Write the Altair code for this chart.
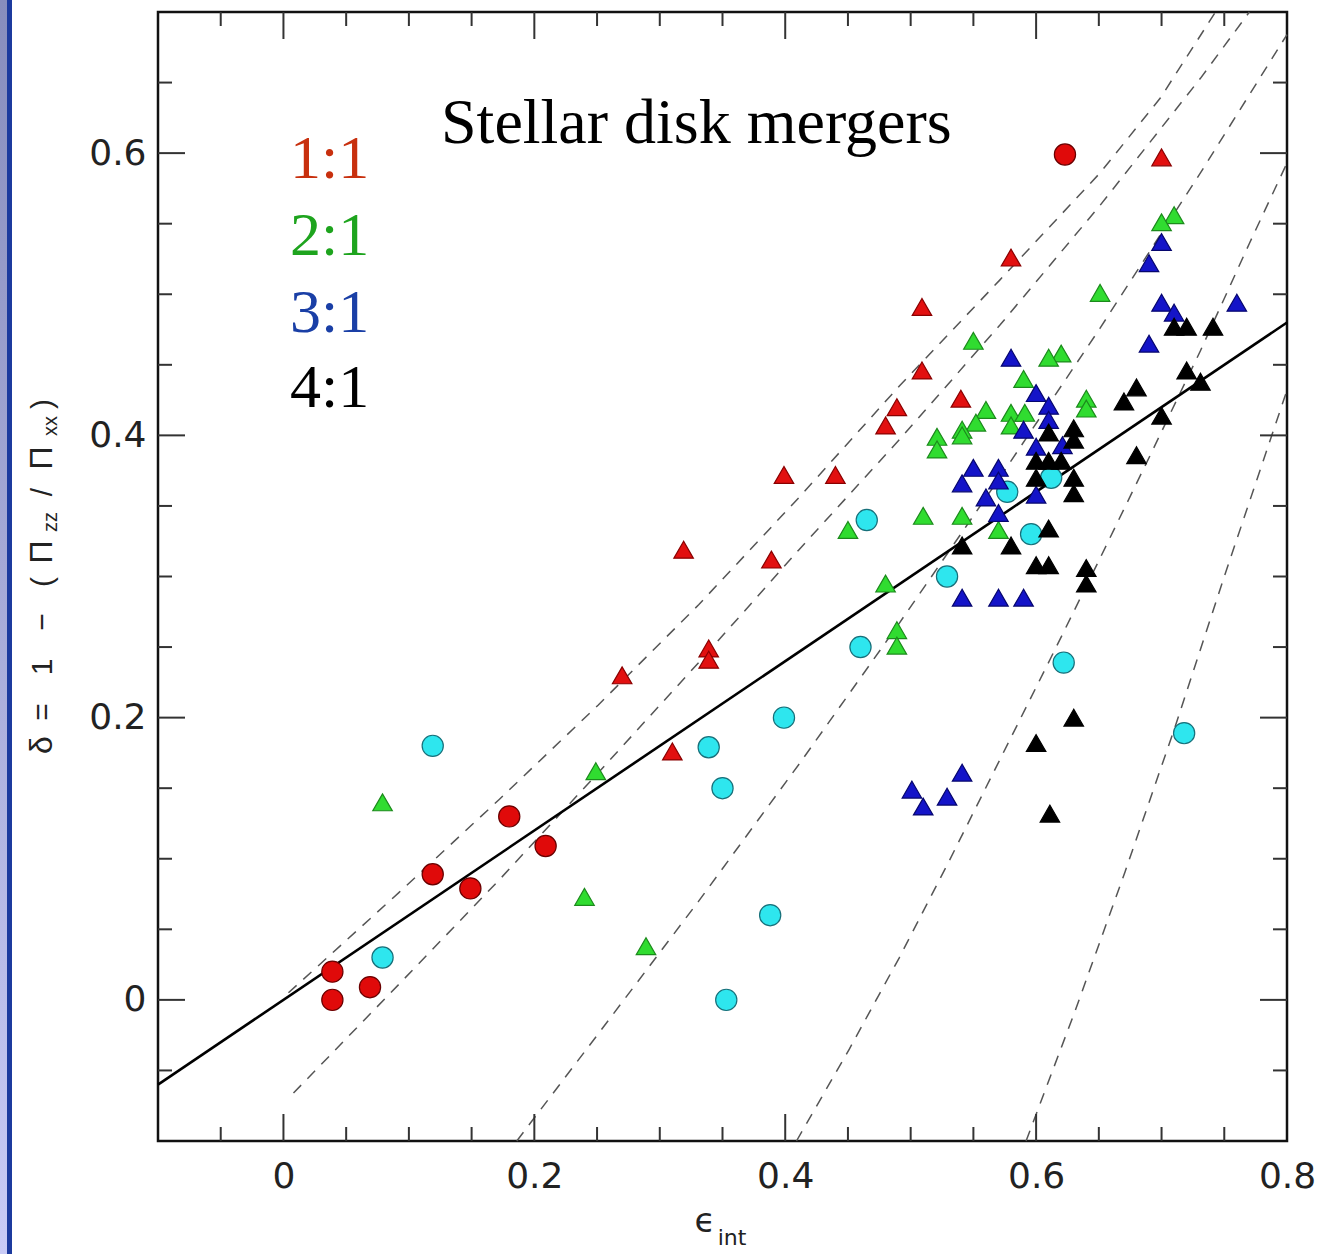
import altair as alt
import pandas as pd

# ---------------- data ----------------
# 1:1 mergers (red): circles and triangles
m11_circ_x = [0.039, 0.039, 0.069, 0.119, 0.149, 0.180, 0.209, 0.623]
m11_circ_y = [0.020, 0.000, 0.009, 0.089, 0.079, 0.130, 0.109, 0.599]
m11_tri_x = [0.700, 0.580, 0.509, 0.509, 0.489, 0.480, 0.540, 0.399, 0.440, 0.319, 0.389, 0.339, 0.339, 0.270, 0.310]
m11_tri_y = [0.597, 0.526, 0.491, 0.446, 0.420, 0.407, 0.426, 0.372, 0.372, 0.319, 0.312, 0.249, 0.241, 0.230, 0.176]
# 2:1 mergers (green)
m21_x = [0.710, 0.700, 0.651, 0.550, 0.620, 0.610, 0.590, 0.640, 0.640, 0.560,
         0.580, 0.591, 0.552, 0.580, 0.541, 0.541, 0.521, 0.521, 0.510, 0.541,
         0.570, 0.450, 0.480, 0.489, 0.489, 0.249, 0.079, 0.240, 0.289]
m21_y = [0.556, 0.551, 0.501, 0.467, 0.458, 0.455, 0.440, 0.426, 0.419, 0.418,
         0.416, 0.416, 0.409, 0.407, 0.404, 0.400, 0.399, 0.390, 0.343, 0.343,
         0.333, 0.333, 0.295, 0.262, 0.251, 0.162, 0.140, 0.073, 0.038]
# 3:1 mergers (blue)
m31_x = [0.760, 0.700, 0.690, 0.700, 0.710, 0.690, 0.580, 0.600, 0.610, 0.610,
         0.590, 0.621, 0.600, 0.550, 0.570, 0.541, 0.570, 0.560, 0.570, 0.600,
         0.541, 0.570, 0.590, 0.501, 0.510, 0.529, 0.541]
m31_y = [0.494, 0.537, 0.522, 0.494, 0.487, 0.465, 0.455, 0.430, 0.421, 0.411,
         0.404, 0.393, 0.392, 0.377, 0.377, 0.366, 0.368, 0.356, 0.345, 0.358,
         0.285, 0.285, 0.285, 0.149, 0.137, 0.144, 0.161]
# 4:1 mergers (black)
m41_x = [0.710, 0.720, 0.741, 0.720, 0.731, 0.680, 0.670, 0.700, 0.680, 0.630,
         0.630, 0.610, 0.600, 0.610, 0.620, 0.600, 0.630, 0.630, 0.610, 0.580,
         0.541, 0.600, 0.610, 0.640, 0.640, 0.630, 0.600, 0.611]
m41_y = [0.477, 0.477, 0.477, 0.446, 0.438, 0.434, 0.424, 0.414, 0.386, 0.405,
         0.397, 0.402, 0.382, 0.382, 0.382, 0.370, 0.370, 0.359, 0.334, 0.322,
         0.322, 0.308, 0.308, 0.306, 0.295, 0.200, 0.182, 0.132]
# cyan circles
cyan_x = [0.465, 0.577, 0.612, 0.596, 0.529, 0.460, 0.622, 0.399, 0.339, 0.350, 0.119, 0.079, 0.388, 0.353, 0.718]
cyan_y = [0.340, 0.360, 0.370, 0.330, 0.300, 0.250, 0.239, 0.200, 0.179, 0.150, 0.180, 0.030, 0.060, 0.000, 0.189]

# solid relation
fit_x = [-0.1, 0.8]
fit_y = [-0.06, 0.48]

# dashed curves
curveA_x = [0.004, 0.092, 0.172, 0.251, 0.331, 0.411, 0.491, 0.571, 0.651, 0.699, 0.743]
curveA_y = [0.005, 0.076, 0.142, 0.209, 0.280, 0.356, 0.435, 0.510, 0.586, 0.639, 0.700]
curveB_x = [0.008, 0.092, 0.172, 0.251, 0.331, 0.411, 0.491, 0.571, 0.651, 0.731, 0.770]
curveB_y = [-0.066, 0.011, 0.085, 0.161, 0.239, 0.319, 0.397, 0.478, 0.563, 0.653, 0.700]
curveC_x = [0.186, 0.251, 0.331, 0.411, 0.491, 0.571, 0.651, 0.731, 0.800]
curveC_y = [-0.100, -0.024, 0.070, 0.167, 0.267, 0.370, 0.476, 0.586, 0.684]
curveD_x = [0.409, 0.451, 0.491, 0.531, 0.571, 0.611, 0.651, 0.691, 0.731, 0.770, 0.800]
curveD_y = [-0.100, -0.035, 0.030, 0.099, 0.170, 0.241, 0.313, 0.386, 0.460, 0.536, 0.593]
curveE_x = [0.592, 0.631, 0.671, 0.711, 0.750, 0.800]
curveE_y = [-0.100, -0.008, 0.091, 0.194, 0.300, 0.432]

# axis ticks / labels
x_labels = [0, 0.2, 0.4, 0.6, 0.8]
y_labels = [0, 0.2, 0.4, 0.6]
x_major = [0, 0.2, 0.4, 0.6]
x_minor = [-0.05, 0.05, 0.1, 0.15, 0.25, 0.3, 0.35, 0.45, 0.5, 0.55, 0.65, 0.7, 0.75]
y_major = [0, 0.2, 0.4, 0.6]
y_minor = [-0.05, 0.05, 0.1, 0.15, 0.25, 0.3, 0.35, 0.45, 0.5, 0.55, 0.65]

legend_labels = ["1:1", "2:1", "3:1", "4:1"]
legend_colors = ["#c8300e", "#1ea41e", "#1a3fa6", "#000000"]
title_text = "Stellar disk mergers"

# ---------------- chart ----------------
W, H = 1129, 1129
LEFT, TOP = 158, 12
xs = alt.Scale(domain=[-0.1, 0.8], nice=False, zero=False)
ys = alt.Scale(domain=[-0.1, 0.7], nice=False, zero=False)
xax = alt.Axis(values=x_labels, format="~g", title=None, ticks=False, domain=False, grid=False,
               labelFont="DejaVu Sans", labelFontSize=36, labelPadding=18, labelColor="#222",
               labelFlush=False, labelOverlap=False)
yax = alt.Axis(values=y_labels, format="~g", title=None, ticks=False, domain=False, grid=False,
               labelFont="DejaVu Sans", labelFontSize=36, labelPadding=12, labelColor="#222",
               labelFlush=False, labelOverlap=False)


def X(f="x"):
    return alt.X(f"{f}:Q", scale=xs, axis=xax)


def Y(f="y"):
    return alt.Y(f"{f}:Q", scale=ys, axis=yax)


layers = []

# left blue slide strip
strip = pd.DataFrame({"a": [0]})
layers.append(alt.Chart(strip).mark_rect(
    color=alt.Gradient(gradient="linear",
                       stops=[alt.GradientStop(color="#878dbd", offset=0),
                              alt.GradientStop(color="#c9cbf6", offset=1)],
                       x1=0, x2=0, y1=0, y2=1)
).encode(x=alt.value(-LEFT), x2=alt.value(-LEFT + 7), y=alt.value(-TOP), y2=alt.value(1254 - TOP)))
layers.append(alt.Chart(strip).mark_rect(color="#1c3a9e").encode(
    x=alt.value(-LEFT + 7), x2=alt.value(-LEFT + 12), y=alt.value(-TOP), y2=alt.value(1254 - TOP)))

# dashed curves
rows = []
for name, cx, cy in [("A", curveA_x, curveA_y), ("B", curveB_x, curveB_y), ("C", curveC_x, curveC_y),
                     ("D", curveD_x, curveD_y), ("E", curveE_x, curveE_y)]:
    for i, (a, b) in enumerate(zip(cx, cy)):
        rows.append({"c": name, "i": i, "x": a, "y": b})
dash_df = pd.DataFrame(rows)
layers.append(alt.Chart(dash_df).mark_line(strokeDash=[11, 9], strokeWidth=1.5, color="#555555").encode(
    x=X(), y=Y(), detail="c:N", order="i:Q"))

# solid line
layers.append(alt.Chart(pd.DataFrame({"x": fit_x, "y": fit_y})).mark_line(
    color="black", strokeWidth=2.6).encode(x=X(), y=Y()))

# points
def pts(xv, yv, shape, fill, stroke, size):
    return alt.Chart(pd.DataFrame({"x": xv, "y": yv})).mark_point(
        shape=shape, filled=True, fill=fill, stroke=stroke, strokeWidth=1.2, opacity=1, size=size
    ).encode(x=X(), y=Y())

layers.append(pts(cyan_x, cyan_y, "circle", "#2ee6ee", "#17707a", 450))
layers.append(pts(m11_circ_x, m11_circ_y, "circle", "#e00a0a", "#6a0000", 450))
layers.append(pts(m11_tri_x, m11_tri_y, "triangle-up", "#e21010", "#8a0000", 380))
layers.append(pts(m21_x, m21_y, "triangle-up", "#30dc30", "#1c8a1c", 380))
layers.append(pts(m31_x, m31_y, "triangle-up", "#1414c8", "#06066e", 380))
layers.append(pts(m41_x, m41_y, "triangle-up", "#000000", "#000000", 380))

# inward ticks on all four sides
MAJ, MIN = 27, 14
def tick_layers(vals, length):
    d = pd.DataFrame({"v": vals})
    base = alt.Chart(d).mark_rule(color="#333333", strokeWidth=2)
    return [base.encode(x=X("v"), y=alt.value(H), y2=alt.value(H - length)),
            base.encode(x=X("v"), y=alt.value(0), y2=alt.value(length))]

def ytick_layers(vals, length):
    d = pd.DataFrame({"v": vals})
    base = alt.Chart(d).mark_rule(color="#333333", strokeWidth=2)
    return [base.encode(y=Y("v"), x=alt.value(0), x2=alt.value(length)),
            base.encode(y=Y("v"), x=alt.value(W), x2=alt.value(W - length))]

layers += tick_layers(x_major, MAJ) + tick_layers(x_minor, MIN)
layers += ytick_layers(y_major, MAJ) + ytick_layers(y_minor, MIN)

# annotation texts (pixel positions inside the view)
def txt(t, px, py, size, color="black", font="Liberation Serif", angle=0, align="left"):
    return alt.Chart(pd.DataFrame({"t": [t]})).mark_text(
        font=font, fontSize=size, color=color, align=align, baseline="alphabetic", angle=angle
    ).encode(x=alt.value(px), y=alt.value(py), text="t:N")

layers.append(txt(title_text, 441 - LEFT, 143 - TOP, 64))
for lab, col, by in zip(legend_labels, legend_colors, [178, 255, 332, 407]):
    layers.append(txt(lab, 290 - LEFT, by - TOP, 62, color=col))

# y-axis title: δ= 1 − (Π_zz/Π_xx), rotated
ytitle = [("δ", 745, 32, 52), ("=", 712, 30, 52), ("1", 667, 30, 52), ("−", 622, 30, 52),
          ("(", 582, 30, 52), ("Π", 552, 32, 52), ("zz", 522, 20, 57), ("/", 492, 30, 52),
          ("Π", 458, 32, 52), ("xx", 426, 20, 57), (")", 404, 30, 52)]
for t, py, fs, bx in ytitle:
    layers.append(txt(t, bx - LEFT, py - TOP, fs, color="#222", font="Liberation Sans",
                      angle=270, align="center"))

# x-axis title: ϵ_int
layers.append(txt("ϵ", 705 - LEFT, 1232 - TOP, 34, color="#222", font="DejaVu Sans", align="center"))
layers.append(txt("int", 732 - LEFT, 1245 - TOP, 22, color="#222", font="DejaVu Sans", align="center"))

chart = alt.layer(*layers).properties(
    width=W, height=H,
    autosize=alt.AutoSizeParams(type="none"),
    padding={"left": LEFT, "top": TOP, "right": 1325 - LEFT - W, "bottom": 1254 - TOP - H},
    background="white",
).configure_view(stroke="#111111", strokeWidth=2.5)

chart.save("out.html", embed_options={"renderer": "svg", "actions": False})
